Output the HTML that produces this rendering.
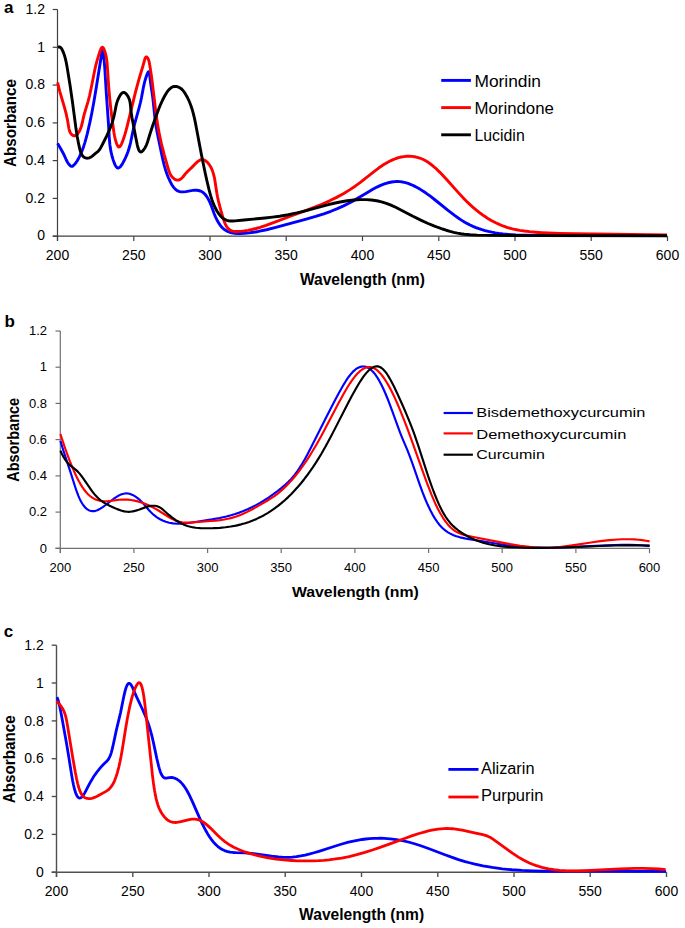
<!DOCTYPE html><html><head><meta charset="utf-8"><style>html,body{margin:0;padding:0;background:#fff;}svg{display:block;}text{font-family:"Liberation Sans",sans-serif;fill:#000;}.b{font-weight:bold;}</style></head><body>
<svg width="685" height="928" viewBox="0 0 685 928">
<rect width="685" height="928" fill="#fff"/>
<path d="M57.5 9.5 V241.0 M52.7 236.2 H667.5" stroke="#404040" stroke-width="1.2" fill="none"/>
<path d="M52.7 236.2 H57.5" stroke="#404040" stroke-width="1.2"/>
<path d="M52.7 198.4 H57.5" stroke="#404040" stroke-width="1.2"/>
<path d="M52.7 160.6 H57.5" stroke="#404040" stroke-width="1.2"/>
<path d="M52.7 122.9 H57.5" stroke="#404040" stroke-width="1.2"/>
<path d="M52.7 85.1 H57.5" stroke="#404040" stroke-width="1.2"/>
<path d="M52.7 47.3 H57.5" stroke="#404040" stroke-width="1.2"/>
<path d="M52.7 9.5 H57.5" stroke="#404040" stroke-width="1.2"/>
<path d="M57.5 236.2 V241.0" stroke="#404040" stroke-width="1.2"/>
<path d="M133.8 236.2 V241.0" stroke="#404040" stroke-width="1.2"/>
<path d="M210.0 236.2 V241.0" stroke="#404040" stroke-width="1.2"/>
<path d="M286.2 236.2 V241.0" stroke="#404040" stroke-width="1.2"/>
<path d="M362.5 236.2 V241.0" stroke="#404040" stroke-width="1.2"/>
<path d="M438.8 236.2 V241.0" stroke="#404040" stroke-width="1.2"/>
<path d="M515.0 236.2 V241.0" stroke="#404040" stroke-width="1.2"/>
<path d="M591.2 236.2 V241.0" stroke="#404040" stroke-width="1.2"/>
<path d="M667.5 236.2 V241.0" stroke="#404040" stroke-width="1.2"/>
<path d="M57.61 143.39L61.01 149.23L62.82 152.51L64.16 155.19L66.31 159.97L67.36 161.98L68.19 163.30L69.15 164.57L70.06 165.55L70.84 166.13L71.64 166.38L72.44 166.21L73.42 165.55L74.69 164.27L75.97 162.69L77.11 161.03L78.37 158.85L79.62 156.39L81.07 153.20L82.38 149.95L83.65 146.40L84.87 142.58L86.05 138.47L87.19 134.09L89.83 122.65L91.87 112.69L93.89 101.72L96.11 88.48L101.71 53.42L102.19 50.98L102.37 50.47L102.54 50.29L102.76 50.55L102.97 51.27L103.47 54.36L104.14 60.67L104.79 68.18L106.36 93.72L108.37 122.09L109.26 137.77L109.85 144.39L110.27 147.62L110.83 150.88L111.48 153.94L112.21 156.78L113.17 159.93L114.21 162.87L115.19 165.11L116.03 166.55L116.53 167.19L117.07 167.66L117.62 167.94L118.19 168.00L118.78 167.84L119.54 167.38L120.16 166.83L120.94 165.94L121.86 164.65L122.76 163.19L124.71 159.52L126.56 155.42L128.06 151.44L129.36 147.31L130.47 143.02L133.33 129.37L134.51 124.33L138.94 108.36L140.38 102.74L141.42 97.94L143.43 87.19L144.57 82.22L145.76 78.07L147.18 74.04L148.09 72.17L148.45 71.76L148.77 71.74L148.98 71.97L149.22 72.56L149.65 74.80L150.71 83.78L152.32 94.21L152.88 98.34L154.71 115.77L155.41 121.63L156.31 127.62L157.46 133.97L162.15 156.52L163.20 161.18L164.25 165.34L165.57 169.95L167.03 174.25L168.53 178.01L170.24 181.69L171.31 183.72L172.34 185.45L173.32 186.87L174.38 188.18L175.54 189.34L176.60 190.19L177.75 190.89L178.99 191.42L180.09 191.71L181.02 191.85L183.26 191.87L185.90 191.57L192.74 190.41L194.84 190.25L196.60 190.27L198.53 190.51L200.33 191.01L202.01 191.79L203.54 192.88L204.94 194.23L206.36 195.98L207.63 197.93L208.88 200.22L209.87 202.31L210.94 204.86L214.09 213.42L215.49 216.89L217.28 220.58L219.14 223.68L220.32 225.34L221.44 226.71L222.63 227.97L223.89 229.11L225.24 230.11L226.65 230.96L228.13 231.68L229.68 232.26L231.98 232.89L234.62 233.33L237.60 233.56L240.65 233.57L244.50 233.35L248.85 232.90L253.64 232.25L258.36 231.45L266.42 229.78L275.81 227.46L305.33 219.36L315.69 216.37L323.82 213.79L330.89 211.27L337.39 208.67L343.54 205.89L349.35 202.98L355.04 199.87L359.78 197.10L369.13 191.40L373.22 189.04L376.97 187.08L380.60 185.40L385.08 183.69L387.25 183.02L389.45 182.46L391.66 182.02L393.64 181.74L395.62 181.57L397.61 181.52L400.08 181.66L402.78 182.04L405.45 182.65L408.09 183.46L410.92 184.54L413.92 185.88L417.05 187.49L420.28 189.35L425.25 192.55L430.61 196.45L435.48 200.26L448.04 210.43L454.92 215.68L458.24 218.02L461.39 220.11L464.38 221.95L467.41 223.66L470.06 225.02L472.97 226.37L475.93 227.59L478.92 228.69L481.96 229.68L485.03 230.57L488.37 231.41L491.75 232.15L495.41 232.82L499.10 233.39L503.06 233.90L507.05 234.30L515.85 234.91L526.46 235.25L539.56 235.41L556.78 235.49L635.24 235.62L666.95 235.57" stroke="#0000ff" stroke-width="2.9" fill="none" stroke-linejoin="round" stroke-linecap="butt"/>
<path d="M57.67 82.43L58.64 86.97L59.82 91.61L64.54 107.71L66.20 113.95L67.55 120.19L68.85 128.25L69.54 130.93L70.19 132.47L70.91 133.65L71.82 134.68L72.74 135.40L73.55 135.80L74.37 135.94L75.18 135.76L76.14 135.20L76.86 134.58L77.67 133.72L78.41 132.78L79.06 131.78L80.27 129.38L81.30 126.52L82.11 123.50L83.47 117.35L84.27 114.14L88.01 101.54L89.52 95.76L91.15 88.29L94.70 70.25L95.73 65.66L96.78 61.60L99.10 53.91L99.99 51.21L100.75 49.28L101.42 48.01L102.00 47.38L102.47 47.25L102.70 47.33L103.05 47.60L103.51 48.24L104.07 49.36L105.08 52.25L106.12 56.34L106.82 60.44L107.21 64.44L108.58 85.44L109.70 98.13L110.57 106.40L111.60 115.07L112.99 125.81L114.01 133.04L114.55 136.00L115.12 138.55L115.85 141.21L116.66 143.69L117.28 145.20L117.96 146.37L118.55 146.94L118.80 147.04L119.17 147.04L119.67 146.79L120.31 146.12L120.94 145.13L121.57 143.88L123.00 140.30L124.74 135.00L125.85 131.21L126.88 127.28L135.17 93.43L137.15 85.84L139.08 78.88L142.78 66.51L144.90 58.92L145.37 57.80L145.88 57.07L146.21 56.86L146.45 56.84L146.95 57.10L147.46 57.67L147.95 58.44L148.36 59.31L148.78 60.46L149.37 62.90L150.19 67.68L151.21 74.47L152.19 81.73L155.22 107.13L156.43 116.51L157.87 126.10L159.46 134.90L161.50 144.15L164.19 154.58L168.45 169.40L169.26 171.78L170.13 173.83L170.95 175.33L171.93 176.72L173.11 177.98L174.29 178.93L175.61 179.69L176.76 180.08L177.70 180.17L178.86 179.98L179.54 179.71L180.42 179.23L181.83 178.11L182.90 176.98L185.50 173.72L187.03 172.05L191.86 167.39L196.32 162.85L197.62 161.67L198.95 160.67L200.06 160.04L200.94 159.70L201.81 159.54L202.67 159.57L203.71 159.81L204.71 160.26L205.67 160.88L206.77 161.78L207.78 162.80L208.85 164.08L209.68 165.25L210.56 166.68L211.35 168.19L212.05 169.77L212.76 171.64L213.37 173.57L214.14 176.57L214.82 179.91L216.86 193.17L217.52 196.72L218.30 200.41L219.47 205.23L221.08 211.16L223.02 217.86L224.26 221.56L225.08 223.58L225.89 225.24L226.79 226.77L227.81 228.12L228.95 229.28L230.04 230.08L231.23 230.69L232.53 231.12L234.63 231.47L237.10 231.54L240.41 231.34L244.19 230.91L247.92 230.32L251.85 229.52L255.98 228.50L260.07 227.35L266.01 225.43L272.83 222.97L287.78 217.27L309.54 209.18L316.06 206.63L321.85 204.25L329.62 200.80L336.57 197.37L343.36 193.65L349.98 189.63L355.16 186.18L360.01 182.68L364.15 179.47L373.69 171.82L378.68 168.05L383.44 164.79L387.76 162.21L390.42 160.82L393.15 159.58L395.94 158.50L398.55 157.68L401.21 157.03L403.93 156.57L406.67 156.31L409.18 156.25L411.93 156.38L414.65 156.73L417.30 157.30L419.65 158.02L422.16 159.01L424.80 160.31L427.36 161.82L429.83 163.50L432.23 165.33L434.56 167.28L437.19 169.68L439.92 172.34L446.18 178.92L458.60 192.86L464.01 198.68L466.99 201.69L470.06 204.63L473.03 207.32L476.09 209.92L480.03 213.03L483.89 215.82L487.87 218.43L491.74 220.71L495.70 222.80L499.76 224.68L503.69 226.24L507.70 227.58L511.54 228.64L515.44 229.54L519.63 230.33L524.35 231.05L529.59 231.68L535.59 232.25L541.58 232.70L548.06 233.05L559.04 233.44L575.01 233.75L666.98 235.01" stroke="#ff0000" stroke-width="2.9" fill="none" stroke-linejoin="round" stroke-linecap="butt"/>
<path d="M57.97 46.97L59.15 46.95L60.10 47.22L61.02 47.91L61.74 48.85L62.73 50.85L63.85 53.62L64.77 56.44L65.54 59.31L66.30 62.70L67.03 66.63L69.93 84.52L72.43 101.67L76.01 128.82L77.23 136.53L78.51 143.40L79.95 149.91L80.55 151.90L81.28 153.73L82.07 155.16L83.02 156.36L84.17 157.30L85.31 157.85L86.77 158.18L88.10 158.16L89.44 157.83L90.99 157.04L92.28 156.09L95.21 153.61L98.11 151.29L99.22 150.09L100.40 148.30L103.82 141.72L106.60 136.12L108.81 131.33L110.55 127.16L112.25 122.45L113.53 118.13L114.38 114.48L116.06 105.85L116.67 103.40L117.34 101.23L118.37 98.61L119.69 96.05L121.01 94.11L121.66 93.41L122.17 92.98L123.05 92.52L123.60 92.42L123.97 92.44L124.91 92.80L125.84 93.51L126.89 94.69L127.83 96.08L128.70 97.77L129.35 99.49L129.88 101.48L130.24 103.49L131.06 111.37L131.93 117.16L135.83 137.77L137.20 144.63L138.07 148.02L138.53 149.35L138.94 150.28L139.39 151.03L139.88 151.59L140.42 151.91L140.85 151.98L141.48 151.83L142.14 151.42L142.82 150.80L143.50 150.02L145.07 147.71L146.39 145.10L147.54 142.04L150.04 133.73L152.48 126.27L155.50 117.71L158.71 109.03L160.63 104.31L162.61 99.98L164.80 95.76L166.78 92.48L167.71 91.17L168.69 89.96L169.56 89.05L170.47 88.24L171.42 87.56L172.22 87.11L173.26 86.70L174.12 86.49L175.25 86.40L176.20 86.47L177.16 86.68L178.38 87.09L179.33 87.53L180.47 88.21L181.51 88.99L182.44 89.87L183.73 91.40L185.26 93.68L186.88 96.46L188.43 99.54L189.71 102.46L190.94 105.68L192.02 108.97L193.05 112.54L194.25 117.38L195.40 122.78L201.49 154.94L205.24 173.31L207.19 182.02L209.15 190.16L210.56 195.39L211.90 199.66L213.49 203.93L215.20 207.74L216.95 211.02L218.82 213.89L220.76 216.26L221.82 217.30L222.74 218.09L223.71 218.79L224.71 219.40L225.77 219.90L226.86 220.30L228.70 220.74L230.62 220.96L232.60 221.01L235.13 220.89L244.00 219.97L265.05 218.00L272.52 217.15L279.48 216.21L288.36 214.72L296.89 212.91L305.33 210.80L327.45 204.84L334.03 203.27L340.20 201.98L347.18 200.80L353.70 200.03L359.97 199.65L365.97 199.65L371.41 200.03L376.54 200.75L379.20 201.29L381.59 201.87L386.31 203.32L390.94 205.13L396.18 207.53L400.90 209.92L412.93 216.28L420.74 220.14L427.50 223.22L433.92 225.89L438.11 227.49L442.36 229.00L446.18 230.24L450.05 231.37L453.70 232.31L457.38 233.12L460.83 233.74L464.29 234.23L470.25 234.77L477.22 235.09L491.70 235.36L509.45 235.54L534.95 235.64L667.00 235.68" stroke="#000000" stroke-width="2.9" fill="none" stroke-linejoin="round" stroke-linecap="butt"/>
<path d="M441.2 80.4 H470.9" stroke="#0000ff" stroke-width="2.9"/>
<path d="M441.2 107.6 H470.9" stroke="#ff0000" stroke-width="2.9"/>
<path d="M441.2 134.8 H470.9" stroke="#000000" stroke-width="2.9"/>
<text class="b" x="4.0" y="12.8" font-size="17" text-anchor="start">a</text>
<text x="45.0" y="240.4" font-size="14" text-anchor="end">0</text>
<text x="45.0" y="202.6" font-size="14" text-anchor="end">0.2</text>
<text x="45.0" y="164.8" font-size="14" text-anchor="end">0.4</text>
<text x="45.0" y="127.1" font-size="14" text-anchor="end">0.6</text>
<text x="45.0" y="89.3" font-size="14" text-anchor="end">0.8</text>
<text x="45.0" y="51.5" font-size="14" text-anchor="end">1</text>
<text x="45.0" y="13.7" font-size="14" text-anchor="end">1.2</text>
<text x="57.5" y="259.8" font-size="14" text-anchor="middle">200</text>
<text x="133.8" y="259.8" font-size="14" text-anchor="middle">250</text>
<text x="210.0" y="259.8" font-size="14" text-anchor="middle">300</text>
<text x="286.2" y="259.8" font-size="14" text-anchor="middle">350</text>
<text x="362.5" y="259.8" font-size="14" text-anchor="middle">400</text>
<text x="438.8" y="259.8" font-size="14" text-anchor="middle">450</text>
<text x="515.0" y="259.8" font-size="14" text-anchor="middle">500</text>
<text x="591.2" y="259.8" font-size="14" text-anchor="middle">550</text>
<text x="667.5" y="259.8" font-size="14" text-anchor="middle">600</text>
<text class="b" x="362.4" y="284.6" font-size="16" text-anchor="middle" textLength="125.0" lengthAdjust="spacingAndGlyphs">Wavelength (nm)</text>
<text class="b" x="0" y="0" font-size="16" text-anchor="middle" textLength="88.0" lengthAdjust="spacingAndGlyphs" transform="translate(16.2 123.0) rotate(-90)">Absorbance</text>
<text x="474.5" y="86.5" font-size="16" text-anchor="start" textLength="66.5" lengthAdjust="spacingAndGlyphs">Morindin</text>
<text x="474.5" y="113.7" font-size="16" text-anchor="start" textLength="79.3" lengthAdjust="spacingAndGlyphs">Morindone</text>
<text x="474.5" y="140.9" font-size="16" text-anchor="start" textLength="50.2" lengthAdjust="spacingAndGlyphs">Lucidin</text>
<path d="M60.3 331.0 V553.1 M55.5 548.3 H649.5" stroke="#707070" stroke-width="1.2" fill="none"/>
<path d="M55.5 548.3 H60.3" stroke="#707070" stroke-width="1.2"/>
<path d="M55.5 512.1 H60.3" stroke="#707070" stroke-width="1.2"/>
<path d="M55.5 475.9 H60.3" stroke="#707070" stroke-width="1.2"/>
<path d="M55.5 439.6 H60.3" stroke="#707070" stroke-width="1.2"/>
<path d="M55.5 403.4 H60.3" stroke="#707070" stroke-width="1.2"/>
<path d="M55.5 367.2 H60.3" stroke="#707070" stroke-width="1.2"/>
<path d="M55.5 331.0 H60.3" stroke="#707070" stroke-width="1.2"/>
<path d="M60.3 548.3 V553.1" stroke="#707070" stroke-width="1.2"/>
<path d="M133.9 548.3 V553.1" stroke="#707070" stroke-width="1.2"/>
<path d="M207.6 548.3 V553.1" stroke="#707070" stroke-width="1.2"/>
<path d="M281.2 548.3 V553.1" stroke="#707070" stroke-width="1.2"/>
<path d="M354.9 548.3 V553.1" stroke="#707070" stroke-width="1.2"/>
<path d="M428.6 548.3 V553.1" stroke="#707070" stroke-width="1.2"/>
<path d="M502.2 548.3 V553.1" stroke="#707070" stroke-width="1.2"/>
<path d="M575.9 548.3 V553.1" stroke="#707070" stroke-width="1.2"/>
<path d="M649.5 548.3 V553.1" stroke="#707070" stroke-width="1.2"/>
<path d="M60.40 440.90L63.60 451.30L70.40 471.93L75.20 487.04L76.80 491.73L78.40 495.90L79.60 498.64L81.00 501.43L82.20 503.50L83.60 505.55L85.00 507.25L86.40 508.62L87.80 509.67L89.20 510.43L90.20 510.80L91.20 511.05L92.20 511.17L93.20 511.18L94.20 511.08L95.40 510.84L96.60 510.46L97.80 509.98L100.20 508.72L102.80 507.05L105.60 505.00L113.40 498.98L115.80 497.31L117.80 496.07L120.20 494.84L122.60 493.96L124.80 493.51L126.80 493.43L128.00 493.54L129.40 493.80L130.60 494.14L132.00 494.67L133.40 495.33L134.80 496.13L136.20 497.05L137.60 498.10L140.00 500.16L142.40 502.55L144.40 504.78L149.00 510.22L151.20 512.58L153.80 514.97L156.60 517.12L159.60 519.00L162.60 520.51L165.80 521.76L169.20 522.72L173.00 523.39L177.00 523.70L181.40 523.67L186.20 523.29L192.20 522.49L212.00 519.41L219.60 518.02L226.40 516.51L231.00 515.31L235.20 514.05L239.40 512.62L243.40 511.09L247.60 509.30L251.80 507.32L256.00 505.15L260.00 502.92L264.40 500.26L268.60 497.53L273.00 494.47L277.20 491.35L281.60 487.87L285.20 484.83L288.40 481.86L291.20 478.98L294.60 475.01L297.80 470.69L301.20 465.44L304.80 459.27L307.80 453.75L311.00 447.60L327.00 415.79L335.00 400.26L338.60 393.49L341.40 388.43L343.80 384.32L346.20 380.48L348.80 376.72L351.20 373.67L353.60 371.09L355.80 369.21L357.00 368.38L358.20 367.70L359.40 367.17L360.40 366.83L361.60 366.57L362.60 366.46L363.80 366.47L364.80 366.60L366.00 366.89L367.00 367.25L369.00 368.30L370.20 369.14L371.20 369.97L373.20 371.95L375.20 374.39L377.20 377.29L379.20 380.63L381.40 384.77L383.20 388.50L385.20 392.97L387.20 397.75L389.20 402.80L392.00 410.27L397.60 425.98L400.00 432.43L402.20 437.90L407.40 450.16L410.00 456.82L413.00 465.16L419.40 483.68L422.20 491.38L425.00 498.50L427.60 504.55L430.20 510.04L432.60 514.60L435.00 518.66L437.40 522.19L439.80 525.22L442.40 527.97L445.20 530.39L448.00 532.35L449.80 533.40L451.60 534.31L453.60 535.20L455.60 535.97L460.00 537.33L464.80 538.42L469.00 539.14L481.20 540.95L498.60 544.03L505.80 545.18L514.80 546.30L524.20 547.09L531.40 547.47L538.80 547.67L546.60 547.72L555.00 547.61L570.40 547.08L605.80 545.35L614.60 545.05L622.40 544.89L629.60 544.86L636.60 544.97L643.20 545.21L649.60 545.58" stroke="#0000ff" stroke-width="2.15" fill="none" stroke-linejoin="round" stroke-linecap="butt"/>
<path d="M60.40 434.03L62.80 441.42L65.20 448.49L67.40 454.66L69.60 460.52L71.80 466.03L74.00 471.19L76.20 475.97L78.20 479.96L80.20 483.60L82.20 486.87L84.00 489.49L86.00 492.03L88.00 494.20L90.00 496.01L92.20 497.64L94.40 498.92L96.40 499.80L98.60 500.50L100.80 500.95L103.20 501.19L105.40 501.23L108.00 501.11L110.80 500.82L119.00 499.75L121.60 499.56L124.20 499.50L127.60 499.64L131.00 500.01L134.40 500.60L137.80 501.41L141.40 502.49L145.00 503.79L148.60 505.31L152.20 507.04L155.20 508.63L158.40 510.48L169.60 517.48L171.80 518.72L174.00 519.83L176.00 520.70L178.00 521.40L180.00 521.93L182.00 522.30L185.40 522.61L189.40 522.60L210.80 521.05L215.80 520.61L220.20 520.10L224.20 519.49L228.00 518.76L231.80 517.85L235.60 516.72L239.20 515.43L243.20 513.75L247.20 511.87L251.80 509.51L257.00 506.66L263.60 502.89L267.60 500.50L271.20 498.21L274.40 496.02L277.40 493.79L280.40 491.37L283.20 488.90L286.00 486.24L288.80 483.37L291.60 480.30L294.60 476.79L297.40 473.31L300.40 469.37L303.20 465.49L306.20 461.12L309.00 456.84L312.00 452.05L316.80 443.95L321.80 434.97L326.80 425.59L338.20 403.79L343.00 394.92L347.60 387.01L349.80 383.53L351.80 380.59L354.40 377.10L357.00 374.07L359.40 371.69L361.80 369.77L363.00 368.99L364.20 368.33L365.40 367.80L366.40 367.47L367.60 367.19L368.80 367.05L370.00 367.05L371.00 367.17L372.20 367.46L373.40 367.90L374.60 368.50L375.80 369.25L377.00 370.15L378.20 371.20L380.60 373.70L383.00 376.72L385.60 380.53L388.20 384.87L391.00 390.06L394.00 396.17L397.00 402.79L400.20 410.33L403.60 418.81L407.00 427.69L410.80 437.97L423.20 472.64L427.20 483.56L431.60 494.85L433.60 499.61L435.40 503.66L437.80 508.66L440.40 513.53L442.80 517.54L445.40 521.36L447.80 524.42L450.40 527.23L453.00 529.53L455.60 531.36L457.80 532.59L460.00 533.58L462.40 534.44L465.20 535.22L473.40 536.96L497.00 541.64L510.00 544.09L520.20 545.73L529.60 546.89L534.00 547.29L538.20 547.56L543.60 547.74L549.00 547.71L554.40 547.46L560.00 546.98L565.00 546.41L570.60 545.65L591.00 542.47L600.20 541.16L609.40 540.10L617.60 539.47L622.00 539.28L626.20 539.21L630.40 539.27L634.40 539.44L638.40 539.75L642.20 540.17L646.00 540.72L649.60 541.38" stroke="#ff0000" stroke-width="2.15" fill="none" stroke-linejoin="round" stroke-linecap="butt"/>
<path d="M60.40 450.62L61.80 453.73L63.40 456.81L65.00 459.44L66.60 461.65L68.00 463.28L69.40 464.67L71.20 466.21L76.20 470.14L77.80 471.65L79.40 473.39L81.20 475.61L83.20 478.30L89.80 487.94L92.20 491.31L94.60 494.38L96.80 496.82L98.60 498.56L100.60 500.25L102.60 501.73L104.80 503.15L107.00 504.40L109.60 505.71L114.00 507.74L117.20 509.12L121.00 510.51L124.20 511.35L127.20 511.77L128.60 511.81L130.00 511.75L132.80 511.37L135.80 510.63L138.80 509.66L145.80 507.13L147.60 506.58L149.40 506.14L151.20 505.83L153.00 505.70L154.80 505.78L156.40 506.06L157.80 506.49L159.00 507.01L160.20 507.68L161.40 508.47L163.60 510.20L169.20 515.19L172.20 517.64L175.80 520.22L179.60 522.52L183.40 524.40L185.40 525.22L187.40 525.93L189.40 526.52L191.40 527.01L193.60 527.43L195.80 527.75L200.40 528.14L206.20 528.28L213.20 528.19L219.80 527.83L225.40 527.30L230.80 526.55L236.00 525.58L241.20 524.34L245.20 523.20L249.00 521.94L252.80 520.51L256.60 518.89L260.40 517.09L264.00 515.19L267.60 513.10L271.00 510.94L274.60 508.46L278.00 505.92L281.40 503.18L284.80 500.24L288.20 497.09L291.40 493.92L294.80 490.34L298.00 486.76L301.00 483.21L304.00 479.46L307.00 475.52L309.80 471.66L312.80 467.33L315.60 463.09L318.60 458.34L321.40 453.70L325.80 446.02L330.40 437.49L335.00 428.62L345.80 407.40L351.40 396.76L357.00 386.77L359.40 382.78L361.60 379.35L364.00 375.92L366.20 373.14L368.40 370.75L370.40 368.97L372.40 367.61L373.40 367.11L374.40 366.72L375.40 366.46L376.20 366.35L377.20 366.33L378.00 366.41L379.20 366.72L380.40 367.25L381.60 368.00L382.80 368.99L384.00 370.18L385.40 371.83L386.80 373.73L388.20 375.85L391.00 380.67L394.00 386.52L397.40 393.74L402.60 405.27L406.00 413.08L409.00 420.30L411.80 427.42L414.40 434.44L418.40 446.12L427.80 475.07L430.20 482.08L432.60 488.74L434.80 494.50L437.00 499.88L439.20 504.86L441.20 509.02L443.40 513.14L445.60 516.76L447.80 519.93L450.20 522.91L452.60 525.48L455.20 527.87L458.20 530.26L461.60 532.63L464.20 534.29L466.80 535.81L469.40 537.20L472.00 538.47L474.60 539.63L477.40 540.76L480.20 541.77L483.00 542.66L486.00 543.51L489.00 544.25L495.20 545.46L502.00 546.40L509.60 547.08L517.00 547.51L525.00 547.80L533.40 547.94L542.20 547.93L551.20 547.79L561.20 547.51L599.80 545.96L616.40 545.47L625.60 545.35L634.00 545.38L642.00 545.54L649.60 545.84" stroke="#000000" stroke-width="2.15" fill="none" stroke-linejoin="round" stroke-linecap="butt"/>
<path d="M443.6 413.0 H472.9" stroke="#0000ff" stroke-width="2.15"/>
<path d="M443.6 433.4 H472.9" stroke="#ff0000" stroke-width="2.15"/>
<path d="M443.6 454.7 H472.9" stroke="#000000" stroke-width="2.15"/>
<text class="b" x="4.5" y="326.8" font-size="17" text-anchor="start">b</text>
<text x="47.0" y="552.5" font-size="13" text-anchor="end">0</text>
<text x="47.0" y="516.3" font-size="13" text-anchor="end">0.2</text>
<text x="47.0" y="480.1" font-size="13" text-anchor="end">0.4</text>
<text x="47.0" y="443.8" font-size="13" text-anchor="end">0.6</text>
<text x="47.0" y="407.6" font-size="13" text-anchor="end">0.8</text>
<text x="47.0" y="371.4" font-size="13" text-anchor="end">1</text>
<text x="47.0" y="335.2" font-size="13" text-anchor="end">1.2</text>
<text x="60.3" y="571.9" font-size="13" text-anchor="middle">200</text>
<text x="133.9" y="571.9" font-size="13" text-anchor="middle">250</text>
<text x="207.6" y="571.9" font-size="13" text-anchor="middle">300</text>
<text x="281.2" y="571.9" font-size="13" text-anchor="middle">350</text>
<text x="354.9" y="571.9" font-size="13" text-anchor="middle">400</text>
<text x="428.6" y="571.9" font-size="13" text-anchor="middle">450</text>
<text x="502.2" y="571.9" font-size="13" text-anchor="middle">500</text>
<text x="575.9" y="571.9" font-size="13" text-anchor="middle">550</text>
<text x="649.5" y="571.9" font-size="13" text-anchor="middle">600</text>
<text class="b" x="355.4" y="597.1" font-size="15.5" text-anchor="middle" textLength="127.0" lengthAdjust="spacingAndGlyphs">Wavelength (nm)</text>
<text class="b" x="0" y="0" font-size="16" text-anchor="middle" textLength="84.0" lengthAdjust="spacingAndGlyphs" transform="translate(18.8 439.8) rotate(-90)">Absorbance</text>
<text x="476.3" y="417.4" font-size="13.5" text-anchor="start" textLength="169.0" lengthAdjust="spacingAndGlyphs">Bisdemethoxycurcumin</text>
<text x="476.3" y="438.6" font-size="13.5" text-anchor="start" textLength="150.0" lengthAdjust="spacingAndGlyphs">Demethoxycurcumin</text>
<text x="476.3" y="458.8" font-size="13.5" text-anchor="start" textLength="68.5" lengthAdjust="spacingAndGlyphs">Curcumin</text>
<path d="M56.5 645.2 V877.0 M51.7 872.2 H666.5" stroke="#505050" stroke-width="1.4" fill="none"/>
<path d="M51.7 872.2 H56.5" stroke="#505050" stroke-width="1.4"/>
<path d="M51.7 834.4 H56.5" stroke="#505050" stroke-width="1.4"/>
<path d="M51.7 796.5 H56.5" stroke="#505050" stroke-width="1.4"/>
<path d="M51.7 758.7 H56.5" stroke="#505050" stroke-width="1.4"/>
<path d="M51.7 720.9 H56.5" stroke="#505050" stroke-width="1.4"/>
<path d="M51.7 683.0 H56.5" stroke="#505050" stroke-width="1.4"/>
<path d="M51.7 645.2 H56.5" stroke="#505050" stroke-width="1.4"/>
<path d="M56.5 872.2 V877.0" stroke="#505050" stroke-width="1.4"/>
<path d="M132.8 872.2 V877.0" stroke="#505050" stroke-width="1.4"/>
<path d="M209.0 872.2 V877.0" stroke="#505050" stroke-width="1.4"/>
<path d="M285.2 872.2 V877.0" stroke="#505050" stroke-width="1.4"/>
<path d="M361.5 872.2 V877.0" stroke="#505050" stroke-width="1.4"/>
<path d="M437.8 872.2 V877.0" stroke="#505050" stroke-width="1.4"/>
<path d="M514.0 872.2 V877.0" stroke="#505050" stroke-width="1.4"/>
<path d="M590.2 872.2 V877.0" stroke="#505050" stroke-width="1.4"/>
<path d="M666.5 872.2 V877.0" stroke="#505050" stroke-width="1.4"/>
<path d="M56.90 697.30L57.30 698.00L57.90 699.50L58.90 703.01L60.10 708.35L61.70 716.44L66.50 743.35L68.30 754.09L71.70 775.35L72.70 780.99L73.50 784.98L74.50 789.16L75.70 793.00L76.30 794.47L76.90 795.67L77.50 796.60L78.10 797.29L78.50 797.62L79.10 797.94L79.70 798.04L80.30 797.96L80.90 797.70L81.50 797.28L82.70 796.02L83.70 794.62L84.90 792.61L88.90 784.88L91.10 780.91L93.10 777.60L95.10 774.58L97.70 771.02L100.50 767.63L103.10 764.82L106.50 761.56L107.50 760.50L108.70 758.84L109.70 756.95L110.50 755.01L111.30 752.60L112.70 747.18L116.30 730.41L120.50 712.85L123.90 696.09L125.30 690.18L126.30 687.03L127.30 684.85L127.70 684.24L128.30 683.61L128.90 683.31L129.50 683.35L130.10 683.70L130.90 684.60L131.70 685.89L132.50 687.48L136.70 697.17L142.10 708.52L144.10 712.90L146.10 717.66L147.90 722.47L150.10 729.29L152.10 736.72L153.50 742.85L156.90 758.85L158.70 766.32L159.50 769.17L160.30 771.65L161.10 773.71L161.90 775.30L162.70 776.48L163.50 777.31L164.30 777.82L165.10 778.09L166.30 778.14L169.30 777.58L171.30 777.48L173.30 777.74L175.30 778.38L177.10 779.30L178.90 780.56L180.70 782.16L182.30 783.89L184.10 786.19L185.70 788.55L187.30 791.23L188.90 794.22L192.30 801.35L199.30 817.37L202.30 823.86L204.10 827.45L205.90 830.80L207.70 833.90L209.50 836.75L211.50 839.60L213.70 842.36L215.70 844.54L217.90 846.56L220.10 848.22L222.30 849.55L224.50 850.58L226.90 851.41L229.90 852.09L233.10 852.48L236.10 852.64L244.50 852.80L251.10 853.33L257.30 854.12L271.50 856.22L278.50 857.01L282.30 857.27L285.70 857.37L289.10 857.33L292.30 857.13L296.50 856.67L300.70 855.99L305.10 855.09L309.90 853.92L314.10 852.76L318.90 851.32L335.50 845.97L341.90 844.00L348.50 842.19L354.70 840.77L358.50 840.05L362.10 839.49L365.90 839.00L369.50 838.66L373.30 838.41L376.90 838.28L380.70 838.27L384.30 838.38L390.30 838.80L396.30 839.54L402.30 840.60L408.30 841.99L414.50 843.73L421.50 846.01L429.10 848.74L444.90 854.75L451.50 857.17L458.50 859.56L465.10 861.57L469.50 862.76L473.90 863.86L482.90 865.80L492.30 867.43L502.30 868.78L511.90 869.75L521.90 870.47L532.50 870.96L544.30 871.25L557.10 871.35L593.70 871.22L643.70 871.34L666.00 871.24" stroke="#0000ff" stroke-width="2.8" fill="none" stroke-linejoin="round" stroke-linecap="butt"/>
<path d="M56.80 700.98L58.00 702.56L61.00 706.17L62.60 708.60L63.60 710.55L64.40 712.42L65.20 714.69L65.80 716.84L66.40 719.52L67.20 723.82L72.80 757.97L75.40 772.79L76.60 778.83L77.60 783.27L78.60 787.05L79.60 790.11L80.60 792.54L81.80 794.72L83.00 796.24L84.20 797.24L85.00 797.69L85.80 798.02L86.80 798.30L87.80 798.48L89.80 798.55L91.80 798.28L93.20 797.91L94.60 797.43L97.60 796.07L106.00 791.35L108.20 789.87L110.00 788.22L111.60 786.22L113.20 783.57L114.60 780.61L116.00 776.94L117.40 772.46L118.80 767.08L120.00 761.69L121.00 756.65L122.20 749.91L125.80 727.53L127.40 718.27L129.40 708.16L131.40 699.69L132.40 696.06L133.60 692.24L134.80 689.00L136.00 686.34L137.20 684.26L137.80 683.49L138.20 683.10L138.80 682.75L139.20 682.69L139.60 682.77L140.00 683.03L140.60 683.74L141.20 684.91L141.80 686.57L142.20 687.98L143.20 692.63L144.20 699.06L145.00 705.38L146.00 714.26L152.40 774.79L153.40 782.94L154.60 790.82L155.40 795.15L156.20 798.86L157.00 802.01L157.80 804.67L158.80 807.44L159.80 809.71L161.00 811.97L162.40 814.25L163.60 815.93L164.80 817.39L166.00 818.63L167.40 819.83L168.80 820.77L170.20 821.48L171.60 821.98L173.00 822.30L174.20 822.44L175.40 822.48L176.80 822.40L178.20 822.22L180.80 821.69L188.20 819.81L190.40 819.41L192.40 819.19L194.60 819.16L196.60 819.36L198.60 819.83L200.40 820.50L201.80 821.20L203.40 822.18L205.00 823.32L206.60 824.59L210.20 827.85L217.60 835.23L220.80 838.24L222.80 839.95L224.80 841.53L228.80 844.32L231.20 845.79L233.80 847.22L236.60 848.59L239.40 849.82L242.40 851.00L245.80 852.20L249.40 853.35L253.20 854.46L257.60 855.61L262.20 856.67L266.80 857.58L271.40 858.37L276.20 859.06L281.20 859.64L286.40 860.13L291.80 860.50L297.40 860.78L302.80 860.92L308.20 860.94L313.40 860.85L318.60 860.63L323.80 860.28L328.80 859.81L333.80 859.22L341.60 858.02L349.20 856.52L356.80 854.69L364.80 852.43L372.40 850.03L380.80 847.16L389.20 844.14L406.00 837.94L412.40 835.67L419.00 833.51L425.00 831.79L428.40 830.94L431.80 830.19L435.00 829.60L438.00 829.16L441.00 828.82L444.00 828.61L447.00 828.52L449.80 828.56L452.60 828.73L455.60 829.06L458.80 829.54L462.20 830.17L475.60 833.18L482.80 834.70L485.40 835.40L487.60 836.18L490.00 837.30L492.60 838.88L496.80 841.84L508.20 850.20L512.80 853.45L518.40 857.12L523.40 860.02L526.40 861.55L529.40 862.95L532.40 864.20L535.60 865.39L538.80 866.44L542.00 867.36L545.20 868.15L548.60 868.86L554.00 869.74L559.60 870.36L565.60 870.75L572.00 870.91L578.20 870.86L585.40 870.64L619.80 868.86L628.00 868.54L635.20 868.38L643.40 868.37L651.20 868.57L658.60 869.00L665.60 869.65" stroke="#ff0000" stroke-width="2.8" fill="none" stroke-linejoin="round" stroke-linecap="butt"/>
<path d="M448.4 769.4 H478.5" stroke="#0000ff" stroke-width="2.8"/>
<path d="M448.4 797.0 H478.5" stroke="#ff0000" stroke-width="2.8"/>
<text class="b" x="3.8" y="636.8" font-size="17" text-anchor="start">c</text>
<text x="43.8" y="876.8" font-size="14" text-anchor="end">0</text>
<text x="43.8" y="839.0" font-size="14" text-anchor="end">0.2</text>
<text x="43.8" y="801.1" font-size="14" text-anchor="end">0.4</text>
<text x="43.8" y="763.3" font-size="14" text-anchor="end">0.6</text>
<text x="43.8" y="725.5" font-size="14" text-anchor="end">0.8</text>
<text x="43.8" y="687.6" font-size="14" text-anchor="end">1</text>
<text x="43.8" y="649.8" font-size="14" text-anchor="end">1.2</text>
<text x="56.5" y="895.8" font-size="14" text-anchor="middle">200</text>
<text x="132.8" y="895.8" font-size="14" text-anchor="middle">250</text>
<text x="209.0" y="895.8" font-size="14" text-anchor="middle">300</text>
<text x="285.2" y="895.8" font-size="14" text-anchor="middle">350</text>
<text x="361.5" y="895.8" font-size="14" text-anchor="middle">400</text>
<text x="437.8" y="895.8" font-size="14" text-anchor="middle">450</text>
<text x="514.0" y="895.8" font-size="14" text-anchor="middle">500</text>
<text x="590.2" y="895.8" font-size="14" text-anchor="middle">550</text>
<text x="666.5" y="895.8" font-size="14" text-anchor="middle">600</text>
<text class="b" x="361.6" y="920.0" font-size="16" text-anchor="middle" textLength="125.0" lengthAdjust="spacingAndGlyphs">Wavelength (nm)</text>
<text class="b" x="0" y="0" font-size="16" text-anchor="middle" textLength="88.0" lengthAdjust="spacingAndGlyphs" transform="translate(14.9 759.2) rotate(-90)">Absorbance</text>
<text x="481.0" y="773.9" font-size="16" text-anchor="start" textLength="53.5" lengthAdjust="spacingAndGlyphs">Alizarin</text>
<text x="481.0" y="801.4" font-size="16" text-anchor="start" textLength="62.3" lengthAdjust="spacingAndGlyphs">Purpurin</text>
</svg></body></html>
